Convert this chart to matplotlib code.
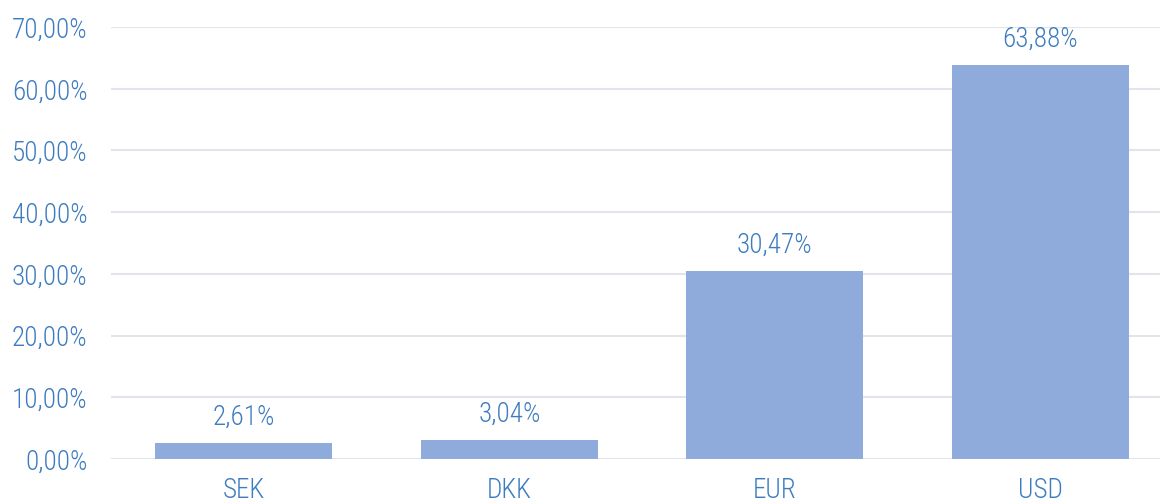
import matplotlib
matplotlib.use("Agg")
import matplotlib.pyplot as plt
from matplotlib import font_manager

categories = ["SEK", "DKK", "EUR", "USD"]
values = [2.61, 3.04, 30.47, 63.88]
yticks = [0, 10, 20, 30, 40, 50, 60, 70]

names = {f.name for f in font_manager.fontManager.ttflist}
fam = [n for n in ["Roboto Condensed", "Liberation Sans Narrow", "Roboto", "DejaVu Sans"] if n in names]

text_color = "#3D7CC0"
bar_color = "#8FABDC"
grid_color = "#E1E4EA"
fs = 19.5
fw = "light"

fig = plt.figure(figsize=(11.62, 5.01), dpi=100)
ax = fig.add_axes([111/1162, 42/501, (1160-111)/1162, 432/501])

x = list(range(len(categories)))
ax.bar(x, values, width=0.667, color=bar_color, zorder=3)
for xi, v in zip(x, values):
    ax.annotate(f"{v:.2f}%".replace(".", ","), (xi, v), xytext=(0, 9), textcoords="offset points",
                ha="center", va="bottom", color=text_color, fontsize=fs, fontweight=fw, family=fam)

ax.set_xlim(-0.5, 3.45)
ax.set_ylim(0, 70)
ax.set_yticks(yticks)
ax.set_yticklabels([f"{t:.2f}%".replace(".", ",") for t in yticks], family=fam, fontsize=fs,
                   fontweight=fw, color=text_color)
ax.set_xticks(x)
ax.set_xticklabels(categories, family=fam, fontsize=fs, fontweight=fw, color=text_color)
ax.tick_params(axis="both", length=0)
ax.tick_params(axis="y", pad=17)
ax.tick_params(axis="x", pad=13)
ax.grid(axis="y", color=grid_color, linewidth=1.5, zorder=0)
for s in ax.spines.values():
    s.set_visible(False)

fig.savefig("out.png", dpi=100)
